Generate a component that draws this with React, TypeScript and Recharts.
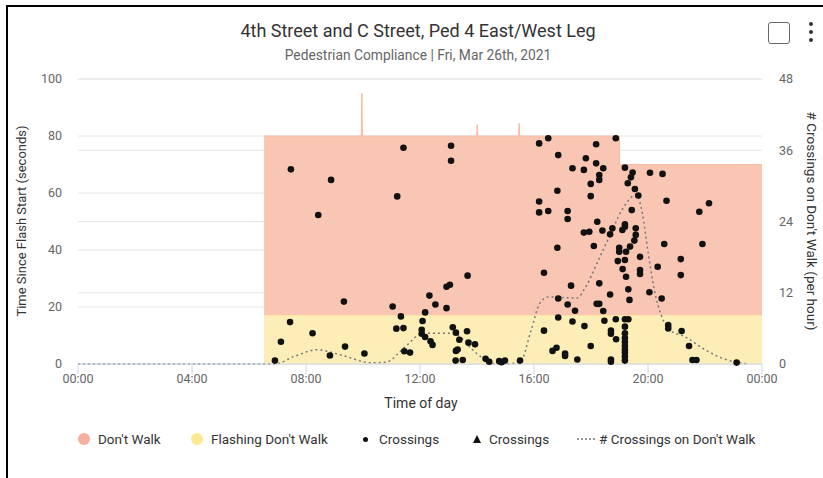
import {
  ComposedChart,
  Area,
  Line,
  Scatter,
  XAxis,
  YAxis,
  CartesianGrid,
} from "recharts";
import type { CSSProperties } from "react";

const FONT = "Roboto, 'Noto Sans', Arial, sans-serif";

// times are hours since midnight
const hourTicks = [0, 4, 8, 12, 16, 20, 24];
const secondTicks = [0, 20, 40, 60, 80, 100];
const rateTicks = [0, 12, 24, 36, 48];

// Don't Walk interval length (seconds), incl. the odd long cycles
const dontWalkTime = [6.53, 9.94, 9.96, 9.98, 13.99, 14.01, 14.03, 15.46, 15.48, 15.5, 19.0, 19.0, 24];
const dontWalkSec = [80, 80, 95, 80, 80, 84, 80, 80, 84.5, 80, 80, 70, 70];

const flashTime = [6.53, 24];
const flashSec = [17, 17];

// individual crossings
const crossTime = [
  6.91, 7.12, 7.44, 7.47, 8.23, 8.43, 8.84, 8.88, 9.33, 9.37,
  10.05, 11.04, 11.17, 11.2, 11.33, 11.42, 11.42, 11.45, 11.65, 12.06,
  12.06, 12.09, 12.18, 12.18, 12.33, 12.37, 12.44, 12.54, 12.93, 12.93,
  13.05, 13.09, 13.09, 13.15, 13.25, 13.26, 13.26, 13.32, 13.38, 13.5,
  13.65, 13.67, 13.7, 13.93, 14.3, 14.43, 14.78, 14.86, 14.98, 15.51,
  16.18, 16.18, 16.18, 16.35, 16.35, 16.5, 16.5, 16.65, 16.79, 16.82,
  16.82, 16.85, 16.85, 16.85, 17.09, 17.09, 17.18, 17.18, 17.18, 17.3,
  17.35, 17.35, 17.44, 17.52, 17.75, 17.75, 17.77, 17.82, 17.94, 17.99,
  17.99, 17.99, 18.1, 18.18, 18.18, 18.2, 18.22, 18.29, 18.29, 18.29,
  18.29, 18.4, 18.43, 18.43, 18.47, 18.67, 18.67, 18.7, 18.7, 18.7,
  18.7, 18.75, 18.87, 18.87, 18.88, 18.94, 18.99, 18.99, 19.1, 19.11,
  19.19, 19.19, 19.19, 19.19, 19.19, 19.19, 19.19, 19.19, 19.19, 19.19,
  19.19, 19.19, 19.19, 19.19, 19.23, 19.23, 19.29, 19.31, 19.31, 19.35,
  19.37, 19.4, 19.43, 19.46, 19.52, 19.54, 19.57, 19.57, 19.66, 19.72,
  19.72, 19.72, 20.05, 20.07, 20.34, 20.48, 20.51, 20.57, 20.65, 20.71,
  20.71, 21.15, 21.15, 21.18, 21.44, 21.56, 21.7, 21.8, 21.91, 22.14,
  23.11,
];
const crossSec = [
  1.2, 7.8, 14.7, 68.3, 10.8, 52.3, 3.0, 64.6, 21.9, 6.1,
  3.7, 20.2, 12.4, 58.8, 16.7, 12.6, 75.9, 4.5, 4.0, 12.0,
  10.6, 15.1, 18.1, 9.5, 24.0, 8.0, 6.7, 20.9, 27.1, 19.6,
  27.8, 76.6, 71.3, 12.9, 1.2, 11.0, 4.6, 5.1, 8.5, 1.4,
  11.5, 31.0, 7.5, 6.9, 1.8, 0.8, 1.0, 0.6, 1.2, 1.2,
  77.4, 57.0, 53.2, 32.0, 11.7, 79.2, 53.7, 4.6, 5.7, 60.8,
  40.8, 73.3, 23.0, 16.3, 3.7, 2.8, 53.7, 50.9, 20.9, 27.5,
  68.7, 14.9, 18.7, 1.6, 68.1, 46.1, 13.3, 72.2, 46.4, 63.2,
  58.9, 6.3, 41.4, 77.1, 70.4, 21.1, 49.9, 66.3, 64.6, 28.3,
  21.1, 46.8, 68.7, 18.6, 15.2, 45.5, 24.4, 11.7, 10.6, 1.6,
  0.8, 47.6, 79.2, 15.7, 8.7, 36.1, 40.8, 39.4, 47.0, 33.3,
  68.9, 49.0, 48.2, 36.5, 15.7, 13.1, 10.8, 9.1, 7.7, 6.3,
  5.1, 4.0, 2.6, 1.2, 39.4, 30.6, 63.4, 26.2, 15.7, 22.5,
  41.2, 65.5, 54.0, 67.2, 43.3, 61.4, 47.6, 45.3, 59.1, 37.6,
  33.0, 31.6, 25.2, 67.1, 34.1, 23.0, 66.7, 42.1, 57.3, 13.7,
  12.5, 36.8, 31.2, 11.6, 6.3, 1.4, 1.4, 53.4, 42.1, 56.4,
  0.5,
];

// crossings on don't walk, per hour (right axis)
const rateTime = [
  0, 6.9, 7.6, 8.4, 9.3, 10.3, 10.8, 11.5, 12.1, 13.0,
  13.4, 13.8, 14.2, 14.7, 15.5, 15.9, 16.2, 16.5, 17.5, 17.85,
  18.26, 18.67, 19.08, 19.6, 19.8, 20.01, 20.22, 20.48, 20.77, 21.3,
  22.0, 22.7, 23.5,
];
const rateValue = [
  0, 0, 1.3, 2.4, 1.4, 0.2, 0.3, 3.0, 5.2, 5.2,
  4.6, 2.6, 1.0, 0, 0.2, 5.7, 10.2, 11.3, 11.1, 13.3,
  17.5, 21.7, 25.9, 28.5, 25.4, 18.6, 12.5, 8.0, 5.7, 4.6,
  2.4, 0.8, 0,
];

const dontWalkData = dontWalkTime.map((t, i) => ({ t, v: dontWalkSec[i] }));
const flashData = flashTime.map((t, i) => ({ t, v: flashSec[i] }));
const crossData = crossTime.map((t, i) => ({ t, v: crossSec[i] }));
const rateData = rateTime.map((t, i) => ({ t, r: rateValue[i] }));

const fmtHour = (h: number) => `${String(h % 24).padStart(2, "0")}:00`;

const tickStyle = { fill: "#666", fontSize: 12.5, fontFamily: FONT };

const Dot = (props: any) => (
  <circle cx={props.cx} cy={props.cy} r={3.3} fill="#111" />
);

const legendText: CSSProperties = {
  position: "absolute",
  top: 430,
  fontSize: 13.5,
  color: "#333",
  lineHeight: "18px",
  whiteSpace: "nowrap",
};

const axisTitle: CSSProperties = {
  position: "absolute",
  fontSize: 13.5,
  color: "#333",
  whiteSpace: "nowrap",
};

export default function App() {
  return (
    <div
      style={{
        position: "absolute",
        left: 0,
        top: 0,
        width: 823,
        height: 478,
        background: "#fff",
        fontFamily: FONT,
        overflow: "hidden",
      }}
    >
      <div
        style={{
          position: "absolute",
          left: 6,
          top: 5,
          width: 830,
          height: 490,
          borderLeft: "2px solid #000",
          borderTop: "2px solid #000",
        }}
      />
      <div
        style={{
          position: "absolute",
          top: 20,
          left: 0,
          width: 836,
          textAlign: "center",
          fontSize: 18,
          color: "#333",
        }}
      >
        4th Street and C Street, Ped 4 East/West Leg
      </div>
      <div
        style={{
          position: "absolute",
          top: 47,
          left: 0,
          width: 836,
          textAlign: "center",
          fontSize: 13.8,
          color: "#666",
        }}
      >
        Pedestrian Compliance | Fri, Mar 26th, 2021
      </div>
      <div
        style={{
          position: "absolute",
          left: 768,
          top: 22,
          width: 20,
          height: 20,
          border: "1.5px solid #666",
          borderRadius: 3,
        }}
      />
      {[24, 32, 40].map((y) => (
        <div
          key={y}
          style={{
            position: "absolute",
            left: 809,
            top: y - 2,
            width: 4,
            height: 4,
            borderRadius: 2,
            background: "#333",
          }}
        />
      ))}

      <div style={{ position: "absolute", left: 0, top: 0 }}>
        <ComposedChart
          width={823}
          height={478}
          margin={{ top: 79, right: 11, bottom: 69, left: 28 }}
        >
          <CartesianGrid vertical={false} stroke="#e6e6e6" yAxisId="left" />
          <CartesianGrid vertical={false} stroke="#e6e6e6" yAxisId="right" />
          <XAxis
            dataKey="t"
            type="number"
            domain={[0, 24]}
            ticks={hourTicks}
            tickFormatter={fmtHour}
            interval={0}
            height={45}
            stroke="#ccd6eb"
            tickSize={10}
            tickMargin={0}
            tick={tickStyle}
          />
          <YAxis
            yAxisId="left"
            domain={[0, 100]}
            ticks={secondTicks}
            width={50}
            axisLine={false}
            tickLine={false}
            tickMargin={10}
            tick={tickStyle}
          />
          <YAxis
            yAxisId="right"
            orientation="right"
            domain={[0, 48]}
            ticks={rateTicks}
            width={50}
            axisLine={false}
            tickLine={false}
            tickMargin={11}
            tick={tickStyle}
          />
          <Area
            yAxisId="left"
            data={dontWalkData}
            dataKey="v"
            name="Don't Walk"
            type="linear"
            fill="#f9c6b3"
            fillOpacity={1}
            stroke="#f7bba6"
            strokeWidth={1}
            isAnimationActive={false}
          />
          <Area
            yAxisId="left"
            data={flashData}
            dataKey="v"
            name="Flashing Don't Walk"
            type="linear"
            fill="#fdeeb8"
            fillOpacity={1}
            stroke="#fde6a2"
            strokeWidth={1}
            isAnimationActive={false}
          />
          <Line
            yAxisId="right"
            data={rateData}
            dataKey="r"
            name="# Crossings on Don't Walk"
            type="monotone"
            stroke="#777"
            strokeWidth={1.5}
            strokeDasharray="2 3"
            dot={false}
            isAnimationActive={false}
          />
          <Scatter
            yAxisId="left"
            data={crossData}
            dataKey="v"
            name="Crossings"
            shape={<Dot />}
            isAnimationActive={false}
          />
          <Scatter
            yAxisId="left"
            data={[]}
            dataKey="v"
            name="Crossings"
            shape="triangle"
            fill="#111"
            isAnimationActive={false}
          />
        </ComposedChart>
      </div>

      <div
        style={{
          ...axisTitle,
          fontSize: 13,
          left: 21,
          top: 221,
          transform: "translate(-50%, -50%) rotate(-90deg)",
        }}
      >
        Time Since Flash Start (seconds)
      </div>
      <div
        style={{
          ...axisTitle,
          left: 812,
          top: 221,
          transform: "translate(-50%, -50%) rotate(90deg)",
        }}
      >
        # Crossings on Don't Walk (per hour)
      </div>
      <div
        style={{
          ...axisTitle,
          fontSize: 14,
          left: 421,
          top: 403,
          transform: "translate(-50%, -50%)",
        }}
      >
        Time of day
      </div>

      {/* legend */}
      <div style={{ position: "absolute", left: 78, top: 433, width: 12, height: 12, borderRadius: 6, background: "#f6b09c" }} />
      <div style={{ ...legendText, left: 98 }}>Don't Walk</div>
      <div style={{ position: "absolute", left: 191, top: 433, width: 12, height: 12, borderRadius: 6, background: "#fde98f" }} />
      <div style={{ ...legendText, left: 211 }}>Flashing Don't Walk</div>
      <div style={{ position: "absolute", left: 363, top: 437, width: 5, height: 5, borderRadius: 3, background: "#111" }} />
      <div style={{ ...legendText, left: 379 }}>Crossings</div>
      <svg style={{ position: "absolute", left: 472, top: 434 }} width={10} height={10}>
        <polygon points="5,1 9,9 1,9" fill="#111" />
      </svg>
      <div style={{ ...legendText, left: 489 }}>Crossings</div>
      <svg style={{ position: "absolute", left: 577, top: 434 }} width={18} height={10}>
        <line x1={0} y1={5} x2={18} y2={5} stroke="#777" strokeWidth={1.5} strokeDasharray="2 2" />
      </svg>
      <div style={{ ...legendText, left: 599 }}>
        # Crossings on Don't Walk
      </div>
    </div>
  );
}
